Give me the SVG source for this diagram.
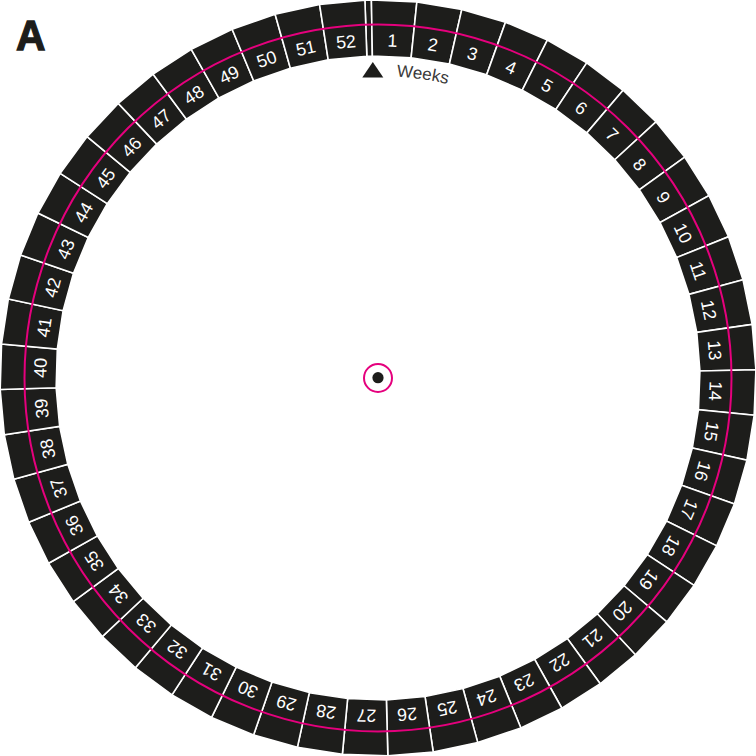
<svg xmlns="http://www.w3.org/2000/svg" xmlns:xlink="http://www.w3.org/1999/xlink" width="756" height="756" viewBox="0 0 756 756">
<style>
.seg{fill:#1d1d1b;stroke:#ffffff;stroke-width:1.6;stroke-linejoin:miter}
.lbl{font-family:"Liberation Sans",Arial,sans-serif;font-size:17.8px;fill:#ffffff;text-anchor:middle}
.ring{fill:none;stroke:#e5007d;stroke-width:2}
</style>
<defs>
<polygon id="week" class="seg" points="378,0 423.438,2.741 416.707,58.335 378,56"/>
<polygon id="day" class="seg" points="378,0 384.507,0.056 383.543,56.048 378,56"/>
<path id="weeksPath" d="M396.44,76.56 A302,302 0 0 1 481.29,94.21"/>
</defs>
<rect width="756" height="756" fill="#ffffff"/>
<g id="label-A"><text x="16" y="50.5" font-family="Liberation Sans,Arial,sans-serif" font-weight="bold" font-size="43" fill="#1d1d1b" stroke="#1d1d1b" stroke-width="1.3" transform="translate(16 0) scale(0.95 1) translate(-16 0)">A</text></g>
<g id="ring-segments">
<use xlink:href="#day" transform="rotate(-1.9863 378 378)"/>
<use xlink:href="#week" transform="rotate(-1 378 378)"/>
<use xlink:href="#week" transform="rotate(5.9041 378 378)"/>
<use xlink:href="#week" transform="rotate(12.8082 378 378)"/>
<use xlink:href="#week" transform="rotate(19.7123 378 378)"/>
<use xlink:href="#week" transform="rotate(26.6164 378 378)"/>
<use xlink:href="#week" transform="rotate(33.5205 378 378)"/>
<use xlink:href="#week" transform="rotate(40.4247 378 378)"/>
<use xlink:href="#week" transform="rotate(47.3288 378 378)"/>
<use xlink:href="#week" transform="rotate(54.2329 378 378)"/>
<use xlink:href="#week" transform="rotate(61.1370 378 378)"/>
<use xlink:href="#week" transform="rotate(68.0411 378 378)"/>
<use xlink:href="#week" transform="rotate(74.9452 378 378)"/>
<use xlink:href="#week" transform="rotate(81.8493 378 378)"/>
<use xlink:href="#week" transform="rotate(88.7534 378 378)"/>
<use xlink:href="#week" transform="rotate(95.6575 378 378)"/>
<use xlink:href="#week" transform="rotate(102.5616 378 378)"/>
<use xlink:href="#week" transform="rotate(109.4658 378 378)"/>
<use xlink:href="#week" transform="rotate(116.3699 378 378)"/>
<use xlink:href="#week" transform="rotate(123.2740 378 378)"/>
<use xlink:href="#week" transform="rotate(130.1781 378 378)"/>
<use xlink:href="#week" transform="rotate(137.0822 378 378)"/>
<use xlink:href="#week" transform="rotate(143.9863 378 378)"/>
<use xlink:href="#week" transform="rotate(150.8904 378 378)"/>
<use xlink:href="#week" transform="rotate(157.7945 378 378)"/>
<use xlink:href="#week" transform="rotate(164.6986 378 378)"/>
<use xlink:href="#week" transform="rotate(171.6027 378 378)"/>
<use xlink:href="#week" transform="rotate(178.5068 378 378)"/>
<use xlink:href="#week" transform="rotate(185.4110 378 378)"/>
<use xlink:href="#week" transform="rotate(192.3151 378 378)"/>
<use xlink:href="#week" transform="rotate(199.2192 378 378)"/>
<use xlink:href="#week" transform="rotate(206.1233 378 378)"/>
<use xlink:href="#week" transform="rotate(213.0274 378 378)"/>
<use xlink:href="#week" transform="rotate(219.9315 378 378)"/>
<use xlink:href="#week" transform="rotate(226.8356 378 378)"/>
<use xlink:href="#week" transform="rotate(233.7397 378 378)"/>
<use xlink:href="#week" transform="rotate(240.6438 378 378)"/>
<use xlink:href="#week" transform="rotate(247.5479 378 378)"/>
<use xlink:href="#week" transform="rotate(254.4521 378 378)"/>
<use xlink:href="#week" transform="rotate(261.3562 378 378)"/>
<use xlink:href="#week" transform="rotate(268.2603 378 378)"/>
<use xlink:href="#week" transform="rotate(275.1644 378 378)"/>
<use xlink:href="#week" transform="rotate(282.0685 378 378)"/>
<use xlink:href="#week" transform="rotate(288.9726 378 378)"/>
<use xlink:href="#week" transform="rotate(295.8767 378 378)"/>
<use xlink:href="#week" transform="rotate(302.7808 378 378)"/>
<use xlink:href="#week" transform="rotate(309.6849 378 378)"/>
<use xlink:href="#week" transform="rotate(316.5890 378 378)"/>
<use xlink:href="#week" transform="rotate(323.4932 378 378)"/>
<use xlink:href="#week" transform="rotate(330.3973 378 378)"/>
<use xlink:href="#week" transform="rotate(337.3014 378 378)"/>
<use xlink:href="#week" transform="rotate(344.2055 378 378)"/>
<use xlink:href="#week" transform="rotate(351.1096 378 378)"/>
</g>
<g id="magenta-ring"><circle class="ring" cx="378" cy="378" r="353.5"/></g>
<g id="week-labels">
<text class="lbl" x="378" y="46.4" transform="rotate(2.4521 378 378)">1</text>
<text class="lbl" x="378" y="46.4" transform="rotate(9.3562 378 378)">2</text>
<text class="lbl" x="378" y="46.4" transform="rotate(16.2603 378 378)">3</text>
<text class="lbl" x="378" y="46.4" transform="rotate(23.1644 378 378)">4</text>
<text class="lbl" x="378" y="46.4" transform="rotate(30.0685 378 378)">5</text>
<text class="lbl" x="378" y="46.4" transform="rotate(36.9726 378 378)">6</text>
<text class="lbl" x="378" y="46.4" transform="rotate(43.8767 378 378)">7</text>
<text class="lbl" x="378" y="46.4" transform="rotate(50.7808 378 378)">8</text>
<text class="lbl" x="378" y="46.4" transform="rotate(57.6849 378 378)">9</text>
<text class="lbl" x="378" y="46.4" transform="rotate(64.5890 378 378)">10</text>
<text class="lbl" x="378" y="46.4" transform="rotate(71.4932 378 378)">11</text>
<text class="lbl" x="378" y="46.4" transform="rotate(78.3973 378 378)">12</text>
<text class="lbl" x="378" y="46.4" transform="rotate(85.3014 378 378)">13</text>
<text class="lbl" x="378" y="46.4" transform="rotate(92.2055 378 378)">14</text>
<text class="lbl" x="378" y="46.4" transform="rotate(99.1096 378 378)">15</text>
<text class="lbl" x="378" y="46.4" transform="rotate(106.0137 378 378)">16</text>
<text class="lbl" x="378" y="46.4" transform="rotate(112.9178 378 378)">17</text>
<text class="lbl" x="378" y="46.4" transform="rotate(119.8219 378 378)">18</text>
<text class="lbl" x="378" y="46.4" transform="rotate(126.7260 378 378)">19</text>
<text class="lbl" x="378" y="46.4" transform="rotate(133.6301 378 378)">20</text>
<text class="lbl" x="378" y="46.4" transform="rotate(140.5342 378 378)">21</text>
<text class="lbl" x="378" y="46.4" transform="rotate(147.4384 378 378)">22</text>
<text class="lbl" x="378" y="46.4" transform="rotate(154.3425 378 378)">23</text>
<text class="lbl" x="378" y="46.4" transform="rotate(161.2466 378 378)">24</text>
<text class="lbl" x="378" y="46.4" transform="rotate(168.1507 378 378)">25</text>
<text class="lbl" x="378" y="46.4" transform="rotate(175.0548 378 378)">26</text>
<text class="lbl" x="378" y="46.4" transform="rotate(181.9589 378 378)">27</text>
<text class="lbl" x="378" y="46.4" transform="rotate(188.8630 378 378)">28</text>
<text class="lbl" x="378" y="46.4" transform="rotate(195.7671 378 378)">29</text>
<text class="lbl" x="378" y="46.4" transform="rotate(202.6712 378 378)">30</text>
<text class="lbl" x="378" y="46.4" transform="rotate(209.5753 378 378)">31</text>
<text class="lbl" x="378" y="46.4" transform="rotate(216.4795 378 378)">32</text>
<text class="lbl" x="378" y="46.4" transform="rotate(223.3836 378 378)">33</text>
<text class="lbl" x="378" y="46.4" transform="rotate(230.2877 378 378)">34</text>
<text class="lbl" x="378" y="46.4" transform="rotate(237.1918 378 378)">35</text>
<text class="lbl" x="378" y="46.4" transform="rotate(244.0959 378 378)">36</text>
<text class="lbl" x="378" y="46.4" transform="rotate(251.0000 378 378)">37</text>
<text class="lbl" x="378" y="46.4" transform="rotate(257.9041 378 378)">38</text>
<text class="lbl" x="378" y="46.4" transform="rotate(264.8082 378 378)">39</text>
<text class="lbl" x="378" y="46.4" transform="rotate(271.7123 378 378)">40</text>
<text class="lbl" x="378" y="46.4" transform="rotate(278.6164 378 378)">41</text>
<text class="lbl" x="378" y="46.4" transform="rotate(285.5205 378 378)">42</text>
<text class="lbl" x="378" y="46.4" transform="rotate(292.4247 378 378)">43</text>
<text class="lbl" x="378" y="46.4" transform="rotate(299.3288 378 378)">44</text>
<text class="lbl" x="378" y="46.4" transform="rotate(306.2329 378 378)">45</text>
<text class="lbl" x="378" y="46.4" transform="rotate(313.1370 378 378)">46</text>
<text class="lbl" x="378" y="46.4" transform="rotate(320.0411 378 378)">47</text>
<text class="lbl" x="378" y="46.4" transform="rotate(326.9452 378 378)">48</text>
<text class="lbl" x="378" y="46.4" transform="rotate(333.8493 378 378)">49</text>
<text class="lbl" x="378" y="46.4" transform="rotate(340.7534 378 378)">50</text>
<text class="lbl" x="378" y="46.4" transform="rotate(347.6575 378 378)">51</text>
<text class="lbl" x="378" y="46.4" transform="rotate(354.5616 378 378)">52</text>
</g>
<g id="start-marker">
<polygon points="372.8,62 383.3,77.5 362.3,77.5" fill="#1d1d1b"/>
<text font-family="Liberation Sans,Arial,sans-serif" font-size="17" fill="#3a3a3a"><textPath xlink:href="#weeksPath">Weeks</textPath></text>
</g>
<g id="center">
<circle cx="378" cy="378" r="14" fill="none" stroke="#e5007d" stroke-width="2"/>
<circle cx="378" cy="377.7" r="5.6" fill="#1d1d1b"/>
</g>
</svg>
